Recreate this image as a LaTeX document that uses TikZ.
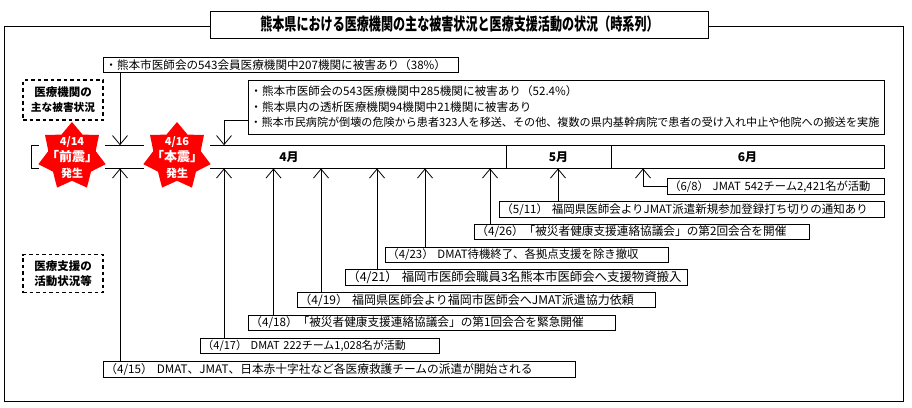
\documentclass[tikz,border=0pt]{standalone}
\usepackage{fontspec}
\setmainfont{Noto Sans CJK JP}
\newfontfamily\titlefont[FakeStretch=0.71]{Noto Sans CJK JP}
\usetikzlibrary{arrows.meta, shapes.geometric}
\newcommand{\fsize}[1]{\fontsize{#1}{12}\selectfont}
\begin{document}
\begin{tikzpicture}[
  x=1pt, y=-1pt, line width=0.8pt,
  titlebox/.style={draw, fill=white, minimum width=498pt, minimum height=27pt, font=\titlefont\fontsize{17}{17}\selectfont\bfseries},
  event/.style={draw, fill=white, anchor=west, inner xsep=2pt, inner ysep=0pt, minimum height=15.5pt, align=left, font=\fsize{12}},
  damage/.style={event, font=\fontsize{11.6}{15.5}\selectfont},
  note/.style={draw, line width=1.4pt, dash pattern=on 3.5pt off 3pt, minimum width=80pt, minimum height=38pt, inner sep=0pt, align=center, font=\fontsize{11.5}{15}\selectfont\bfseries},
  cell/.style={draw, minimum height=22.5pt, inner sep=0pt, font=\fsize{12}\bfseries},
  quake/.style={star, star points=7, star point ratio=1.42, fill=red, inner sep=0pt, minimum size=69pt},
  quaketxt/.style={text=white, align=center, inner sep=0pt, font=\fontsize{11}{16}\selectfont\bfseries},
  arrow/.style={-{Straight Barb[length=9pt,width=15pt,line width=0.8pt]}}
]
  \useasboundingbox (0,0) rectangle (912,407);
  \draw (4.5,26) rectangle (903,401);
  \node[titlebox] (title) at (459,24.5) {\hspace*{1pt}熊本県における医療機関の主な被害状況と医療支援活動の状況（時系列）};

  \node[cell, minimum width=475pt] (apr) at (268.5,156.8) {};
  \node[cell, minimum width=105pt] (may) at (558.5,156.8) {5月};
  \node[cell, minimum width=273pt] (jun) at (747.5,156.8) {6月};
  \node[font=\fsize{12}\bfseries] (aprtxt) at (289,156.8) {4月};

  \fill[white] (39,144) rectangle (105,170);
  \fill[white] (144,144) rectangle (210,170);
  \node[quake] (star414) at (72,156.5) {};
  \node[quake] (star416) at (177,156.5) {};
  \node[quaketxt] (lab414) at (72,158) {4/14\\{\fontsize{13}{16}\selectfont「前震」}\\発生};
  \node[quaketxt] (lab416) at (177,158) {4/16\\{\fontsize{13}{16}\selectfont「本震」}\\発生};

  \node[note, minimum height=40pt] (damagenote) at (63,100) {医療機関の\\{\fontsize{10.7}{15}\selectfont 主な被害状況}};
  \node[note] (supportnote) at (63,273.5) {医療支援の\\活動状況等};

  \node[damage, text width=351pt] (boxa) at (103,65) {・熊本市医師会の543会員医療機関中207機関に被害あり（38\%）};
  \node[damage, text width=632pt, minimum height=54pt] (boxb) at (248,107) {・熊本市医師会の543医療機関中285機関に被害あり（52.4\%）\\・熊本県内の透析医療機関94機関中21機関に被害あり\\{\fontsize{11.1}{15.5}\selectfont ・熊本市民病院が倒壊の危険から患者323人を移送、その他、複数の県内基幹病院で患者の受け入れ中止や他院への搬送を実施}};

  \node[event, font=\fsize{11.7}, text width=468pt] (box415) at (103,369.5) {（4/15） DMAT、JMAT、日本赤十字社など各医療救護チームの派遣が開始される};
  \node[event, font=\fsize{11}, text width=235pt] (box417) at (200,346) {（4/17） DMAT 222チーム1,028名が活動};
  \node[event, font=\fsize{11.65}, text width=363pt] (box418) at (248,323) {（4/18）「被災者健康支援連絡協議会」の第1回会合を緊急開催};
  \node[event, text width=354pt] (box419) at (297,300) {（4/19） 福岡県医師会より福岡市医師会へJMAT派遣協力依頼};
  \node[event, font=\fsize{12.4}, text width=338pt] (box421) at (345,277.5) {（4/21） 福岡市医師会職員3名熊本市医師会へ支援物資搬入};
  \node[event, font=\fsize{11.4}, text width=279pt] (box423) at (385,255) {（4/23） DMAT待機終了、各拠点支援を除き撤収};
  \node[event, font=\fsize{11.65}, text width=331pt] (box426) at (474,232) {（4/26）「被災者健康支援連絡協議会」の第2回会合を開催};
  \node[event, font=\fsize{11.5}, text width=381pt] (box511) at (499,209.5) {（5/11） 福岡県医師会よりJMAT派遣新規参加登録打ち切りの通知あり};
  \node[event, font=\fsize{11.3}, text width=213pt] (box608) at (667,186.5) {（6/8） JMAT 542チーム2,421名が活動};

  \coordinate (t415) at (120,0);
  \coordinate (t416) at (224,0);
  \coordinate (t418) at (273.5,0);
  \coordinate (t419) at (321,0);
  \coordinate (t421) at (377,0);
  \coordinate (t423) at (425,0);
  \coordinate (t426) at (490,0);
  \coordinate (t511) at (558,0);
  \coordinate (t608) at (643,0);
  \coordinate (bleft) at (248,120);

  \draw[arrow] (t415 |- boxa.south) -- (t415 |- apr.north);
  \draw[arrow] (bleft) -| (t416 |- apr.north);
  \draw[arrow] (t415 |- box415.north) -- (t415 |- apr.south);
  \draw[arrow] (t416 |- box417.north) -- (t416 |- apr.south);
  \draw[arrow] (t418 |- box418.north) -- (t418 |- apr.south);
  \draw[arrow] (t419 |- box419.north) -- (t419 |- apr.south);
  \draw[arrow] (t421 |- box421.north) -- (t421 |- apr.south);
  \draw[arrow] (t423 |- box423.north) -- (t423 |- apr.south);
  \draw[arrow] (t426 |- box426.north) -- (t426 |- apr.south);
  \draw[arrow] (t511 |- box511.north) -- (t511 |- may.south);
  \draw[arrow] (box608.west) -| (t608 |- jun.south);
\end{tikzpicture}
\end{document}
